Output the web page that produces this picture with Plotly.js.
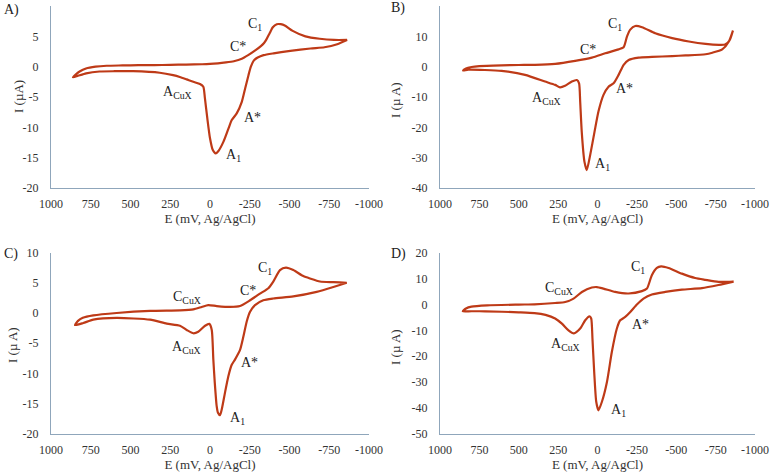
<!DOCTYPE html>
<html>
<head>
<meta charset="utf-8">
<script src="https://cdn.plot.ly/plotly-3.0.1.min.js"></script>
<style>html,body{margin:0;padding:0;background:#fff;}#chart{width:770px;height:475px;}</style>
</head>
<body>
<div id="chart"></div>
<script>
// ---- Panel A ----
const eA_fwd = [862, 845, 820, 780, 720, 650, 550, 450, 350, 250, 150, 50, 0, -50, -100, -150, -200, -240, -280, -320, -340, -355, -375, -395, -420, -445, -470, -520, -600, -690, -780, -862];
const iA_fwd = [-1.75, -1.3, -0.8, -0.3, 0.0, 0.15, 0.2, 0.25, 0.25, 0.3, 0.35, 0.4, 0.45, 0.55, 0.7, 0.9, 1.3, 1.9, 2.6, 3.4, 3.9, 4.5, 5.5, 6.5, 7.0, 7.0, 6.8, 5.9, 5.0, 4.6, 4.4, 4.4];
const eA_rev = [-862, -800, -720, -632, -505, -400, -337, -300, -275, -257, -242, -221, -200, -168, -137, -116, -84, -53, -36, -17, 0, 17, 32, 42, 63, 105, 147, 190, 232, 316, 484, 600, 695, 779, 830, 862];
const iA_rev = [4.4, 3.7, 3.2, 3.0, 2.6, 2.2, 1.9, 1.5, 1.0, 0.0, -1.4, -3.6, -5.8, -7.7, -8.8, -10.2, -12.4, -13.9, -14.3, -13.7, -11.8, -8.5, -5.2, -3.3, -2.85, -2.5, -2.1, -1.7, -1.4, -1.0, -0.75, -0.75, -0.8, -1.1, -1.5, -1.75];

// ---- Panel B ----
const eB_fwd = [853, 835, 800, 750, 609, 500, 397, 269, 142, 36, -49, -134, -166, -187, -208, -240, -283, -367, -474, -580, -686, -771, -810, -840, -860];
const iB_fwd = [-1.3, -0.6, -0.1, 0.2, 0.45, 0.55, 0.6, 0.9, 1.9, 3.0, 4.4, 5.7, 6.4, 9.9, 12.2, 13.4, 13.0, 11.0, 9.4, 8.3, 7.5, 7.2, 7.3, 8.8, 11.9];
const eB_rev = [-860, -834, -792, -729, -686, -559, -474, -346, -261, -198, -166, -134, -102, -70, -38, -6, 19, 46, 68, 83, 100, 110, 117, 131, 163, 206, 238, 269, 333, 460, 609, 715, 821, 853];
const iB_rev = [11.9, 8.3, 5.7, 4.6, 4.1, 3.7, 3.5, 3.2, 3.0, 2.2, 0.6, -2.7, -5.5, -6.6, -9.3, -14.8, -21.5, -29.0, -34.1, -31.3, -21.5, -11.5, -5.5, -4.4, -4.9, -6.3, -6.8, -6.0, -4.9, -2.7, -1.4, -1.1, -1.0, -1.3];

// ---- Panel C ----
const eC_fwd = [849, 830, 800, 734, 587, 377, 189, 105, 52, 11, -42, -126, -189, -252, -314, -367, -398, -440, -478, -524, -587, -629, -692, -776, -860];
const iC_fwd = [-2.0, -1.3, -0.8, -0.4, 0.0, 0.35, 0.45, 0.6, 1.0, 1.3, 1.15, 1.0, 1.15, 2.1, 3.2, 4.1, 5.2, 7.1, 7.5, 7.1, 6.1, 5.7, 5.2, 5.1, 5.0];
const eC_rev = [-860, -776, -671, -524, -398, -335, -283, -252, -231, -210, -189, -157, -136, -115, -94, -75, -63, -50, -42, -30, -21, -11, 4, 31, 74, 105, 147, 189, 272, 377, 587, 734, 797, 849];
const iC_rev = [5.0, 4.3, 3.5, 2.75, 2.4, 2.1, 1.3, 0.2, -1.4, -3.9, -6.1, -7.7, -8.6, -10.5, -13.2, -15.8, -16.9, -16.5, -15.4, -11.5, -7.7, -2.8, -1.8, -2.1, -3.1, -3.35, -2.8, -2.1, -1.75, -1.1, -0.82, -1.1, -1.65, -2.0];

// ---- Panel D ----
const eD_fwd = [855, 835, 800, 700, 500, 400, 269, 205, 152, 99, 36, 4, -38, -112, -197, -282, -314, -345, -377, -404, -451, -536, -620, -684, -768, -864];
const iD_fwd = [-2.6, -1.5, -0.8, -0.3, 0.0, 0.1, 0.6, 1.0, 2.3, 4.9, 6.6, 6.8, 6.2, 4.9, 4.3, 5.2, 6.2, 11.4, 14.2, 14.8, 14.2, 12.0, 10.3, 9.6, 8.8, 8.9];
const eD_rev = [-864, -768, -663, -536, -430, -345, -292, -250, -208, -176, -144, -123, -91, -60, -28, -6, 8, 21, 32, 40, 51, 78, 110, 150, 184, 226, 269, 330, 400, 500, 713, 819, 855];
const iD_rev = [8.9, 7.6, 6.4, 5.8, 4.9, 3.9, 2.3, 0.0, -2.9, -4.8, -6.1, -9.3, -18.4, -30.0, -37.7, -41.0, -37.7, -26.1, -13.2, -5.4, -4.6, -6.1, -9.3, -11.2, -10.0, -7.4, -5.4, -4.0, -3.3, -3.0, -2.6, -2.6, -2.6];

// ---- Axis ticks and labels ----
const xTickVals = [1000, 750, 500, 250, 0, -250, -500, -750, -1000];
const xTickText = ["1000", "750", "500", "250", "0", "-250", "-500", "-750", "-1000"];
const yTicksA = [10, 5, 0, -5, -10, -15, -20];
const yTicksB = [20, 10, 0, -10, -20, -30, -40];
const yTicksC = [10, 5, 0, -5, -10, -15, -20];
const yTicksD = [20, 10, 0, -10, -20, -30, -40, -50];
const panelLetters = ["A)", "B)", "C)", "D)"];
const xTitle = "E (mV, Ag/AgCl)";
const yTitles = ["I (µA)", "I (µ A)", "I (µ A)", "I (µ A)"];

// peak labels: [text, E, I]
const labelsA = [["C<sub>1</sub>", -284, 7.0], ["C*", -177, 3.25], ["A<sub>CuX</sub>", 202, -4.3], ["A*", -265, -8.3], ["A<sub>1</sub>", -145, -14.7]];
const labelsB = [["C<sub>1</sub>", -113, 13.8], ["C*", 61, 5.7], ["A<sub>CuX</sub>", 322, -10.4], ["A*", -172, -7.1], ["A<sub>1</sub>", -32, -32.1]];
const labelsC = [["C<sub>1</sub>", -346, 7.3], ["C*", -241, 3.7], ["C<sub>CuX</sub>", 147, 2.6], ["A<sub>CuX</sub>", 147, -5.7], ["A*", -247, -8.2], ["A<sub>1</sub>", -172, -17.4]];
const labelsD = [["C<sub>1</sub>", -260, 14.2], ["C<sub>CuX</sub>", 243, 6.4], ["A<sub>CuX</sub>", 205, -15.3], ["A*", -271, -7.8], ["A<sub>1</sub>", -133, -40.9]];

const LINE = "#BE3A17";
const AXC = "#8FA6BB";
const FONT = "Liberation Serif, Times New Roman, serif";
const W = 770, H = 475;

function trace(ef, ifw, er, ir, xa, ya) {
  return {
    x: ef.concat(er), y: ifw.concat(ir), xaxis: xa, yaxis: ya,
    type: "scatter", mode: "lines",
    line: {color: LINE, width: 2.2, shape: "spline", smoothing: 0.6},
    hoverinfo: "skip", showlegend: false
  };
}

const data = [
  trace(eA_fwd, iA_fwd, eA_rev, iA_rev, "x", "y"),
  trace(eB_fwd, iB_fwd, eB_rev, iB_rev, "x2", "y2"),
  trace(eC_fwd, iC_fwd, eC_rev, iC_rev, "x3", "y3"),
  trace(eD_fwd, iD_fwd, eD_rev, iD_rev, "x4", "y4")
];

// pixel boxes [left, right, top, bottom]
const boxes = [[51, 369, 6, 188], [440, 755, 6, 188], [51, 369, 252.5, 434], [440, 755, 253, 433.5]];
const yRanges = [[-20, 10], [-40, 20], [-20, 10], [-50, 20]];
const yTicks = [yTicksA, yTicksB, yTicksC, yTicksD];
const yTitlePos = [[18, 97], [395, 100], [12, 345], [395, 347]];

const layout = {
  width: W, height: H,
  margin: {l: 0, r: 0, t: 0, b: 0},
  paper_bgcolor: "#fff", plot_bgcolor: "#fff",
  font: {family: FONT, size: 12, color: "#333"},
  annotations: []
};

const names = ["", "2", "3", "4"];
for (let k = 0; k < 4; k++) {
  const b = boxes[k];
  layout["xaxis" + names[k]] = {
    domain: [b[0] / W, b[1] / W],
    range: [1000, -1000], autorange: false,
    anchor: "y" + names[k],
    tickvals: xTickVals, ticktext: xTickText,
    showgrid: false, zeroline: false, showline: true, linecolor: AXC, linewidth: 1,
    ticks: "", ticklabelstandoff: 5,
    tickfont: {family: FONT, size: 12, color: "#333"},
    title: {text: xTitle, font: {family: FONT, size: 13, color: "#333"}, standoff: 2},
    automargin: false, fixedrange: true
  };
  layout["yaxis" + names[k]] = {
    domain: [1 - b[3] / H, 1 - b[2] / H],
    range: yRanges[k], autorange: false,
    anchor: "x" + names[k],
    tickvals: yTicks[k], ticktext: yTicks[k].map(String),
    showgrid: false, zeroline: false, showline: true, linecolor: AXC, linewidth: 1,
    ticks: "", ticklabelstandoff: 9,
    tickfont: {family: FONT, size: 12, color: "#333"},
    automargin: false, fixedrange: true
  };
  // y-axis title placed as rotated text beside the axis
  layout.annotations.push({
    text: yTitles[k], x: yTitlePos[k][0] / W, y: 1 - yTitlePos[k][1] / H,
    xref: "paper", yref: "paper", showarrow: false, textangle: -90,
    xanchor: "center", yanchor: "middle",
    font: {family: FONT, size: 13, color: "#333"}
  });
}

const allLabels = [labelsA, labelsB, labelsC, labelsD];
for (let k = 0; k < 4; k++) {
  allLabels[k].forEach(l => {
    layout.annotations.push({
      text: l[0], x: l[1], y: l[2], xref: "x" + names[k], yref: "y" + names[k],
      showarrow: false, xanchor: "center", yanchor: "middle",
      font: {family: FONT, size: 14, color: "#222"}
    });
  });
}
const letterPos = [[2, 10], [389, 8], [2, 254], [389, 254]];
for (let k = 0; k < 4; k++) {
  layout.annotations.push({
    text: panelLetters[k], x: letterPos[k][0] / W, y: 1 - letterPos[k][1] / H,
    xref: "paper", yref: "paper", showarrow: false, xanchor: "left", yanchor: "middle",
    font: {family: FONT, size: 14, color: "#222"}
  });
}

Plotly.newPlot("chart", data, layout, {staticPlot: true, displayModeBar: false});
</script>
</body>
</html>
